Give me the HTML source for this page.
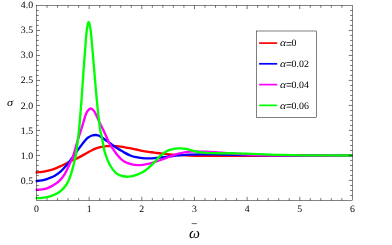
<!DOCTYPE html>
<html><head><meta charset="utf-8"><title>plot</title>
<style>
html,body{margin:0;padding:0;background:#fff;}
body{width:392px;height:245px;overflow:hidden;font-family:"Liberation Serif",serif;}
svg{display:block;will-change:transform;}
svg text{text-rendering:geometricPrecision;}
</style></head><body>
<svg width="392" height="245" viewBox="0 0 392 245">
<rect width="392" height="245" fill="#fff"/>
<defs><clipPath id="c"><rect x="35.30" y="5.50" width="317.30" height="194.90"/></clipPath></defs>
<g clip-path="url(#c)" fill="none" stroke-width="2.35" stroke-linejoin="round" stroke-linecap="butt">
<path d="M35.50 172.50C36.60 172.40 39.98 172.20 42.10 171.90C44.22 171.60 46.15 171.22 48.20 170.70C50.25 170.18 52.35 169.55 54.40 168.80C56.45 168.05 58.47 167.12 60.50 166.20C62.53 165.28 64.57 164.28 66.60 163.30C68.63 162.32 70.87 161.17 72.70 160.30C74.53 159.43 75.63 159.08 77.60 158.10C79.57 157.12 82.70 155.40 84.50 154.40C86.30 153.40 87.15 152.80 88.40 152.10C89.65 151.40 90.73 150.82 92.00 150.20C93.27 149.58 94.65 148.92 96.00 148.40C97.35 147.88 98.33 147.48 100.10 147.10C101.87 146.72 104.57 146.28 106.60 146.10C108.63 145.92 109.98 145.92 112.30 146.00C114.62 146.08 117.88 146.28 120.50 146.60C123.12 146.92 125.40 147.42 128.00 147.90C130.60 148.38 133.73 149.02 136.10 149.50C138.47 149.98 140.15 150.42 142.20 150.80C144.25 151.18 146.35 151.50 148.40 151.80C150.45 152.10 152.47 152.32 154.50 152.60C156.53 152.88 158.57 153.23 160.60 153.50C162.63 153.77 164.67 154.00 166.70 154.20C168.73 154.40 170.92 154.57 172.80 154.70C174.68 154.83 175.22 154.85 178.00 155.00C180.78 155.15 185.55 155.45 189.50 155.60C193.45 155.75 197.78 155.85 201.70 155.90C205.62 155.95 206.62 155.90 213.00 155.90C219.38 155.90 232.50 155.92 240.00 155.90C247.50 155.88 248.00 155.87 258.00 155.80C268.00 155.73 284.27 155.55 300.00 155.50C315.73 155.45 343.67 155.50 352.40 155.50" stroke="#ff0000"/>
<path d="M35.50 181.10C36.60 180.98 39.98 180.83 42.10 180.40C44.22 179.97 46.15 179.23 48.20 178.50C50.25 177.77 52.35 177.13 54.40 176.00C56.45 174.87 58.67 173.28 60.50 171.70C62.33 170.12 63.87 168.25 65.40 166.50C66.93 164.75 68.38 162.93 69.70 161.20C71.02 159.47 72.02 157.87 73.30 156.10C74.58 154.33 76.12 152.32 77.40 150.60C78.68 148.88 79.78 147.42 81.00 145.80C82.22 144.18 83.50 142.28 84.70 140.90C85.90 139.52 86.98 138.40 88.20 137.50C89.42 136.60 90.75 135.92 92.00 135.50C93.25 135.08 94.63 135.00 95.70 135.00C96.77 135.00 97.43 135.13 98.40 135.50C99.37 135.87 100.27 136.42 101.50 137.20C102.73 137.98 104.40 139.22 105.80 140.20C107.20 141.18 108.53 142.12 109.90 143.10C111.27 144.08 112.65 145.17 114.00 146.10C115.35 147.03 116.92 148.02 118.00 148.70C119.08 149.38 119.42 149.55 120.50 150.20C121.58 150.85 122.87 151.72 124.50 152.60C126.13 153.48 128.37 154.73 130.30 155.50C132.23 156.27 134.12 156.77 136.10 157.20C138.08 157.63 140.15 157.90 142.20 158.10C144.25 158.30 146.35 158.38 148.40 158.40C150.45 158.42 152.47 158.35 154.50 158.20C156.53 158.05 158.57 157.73 160.60 157.50C162.63 157.27 164.67 157.05 166.70 156.80C168.73 156.55 170.92 156.23 172.80 156.00C174.68 155.77 175.22 155.63 178.00 155.40C180.78 155.17 185.55 154.77 189.50 154.60C193.45 154.43 195.95 154.42 201.70 154.40C207.45 154.38 216.78 154.40 224.00 154.50C231.22 154.60 237.33 154.85 245.00 155.00C252.67 155.15 260.83 155.32 270.00 155.40C279.17 155.48 286.27 155.48 300.00 155.50C313.73 155.52 343.67 155.50 352.40 155.50" stroke="#0000ff"/>
<path d="M35.50 189.80C36.60 189.73 39.98 189.73 42.10 189.40C44.22 189.07 46.15 188.60 48.20 187.80C50.25 187.00 52.55 185.77 54.40 184.60C56.25 183.43 57.88 182.10 59.30 180.80C60.72 179.50 61.83 178.22 62.90 176.80C63.97 175.38 64.95 173.60 65.70 172.30C66.45 171.00 66.63 170.62 67.40 169.00C68.17 167.38 69.42 164.50 70.30 162.60C71.18 160.70 71.93 159.70 72.70 157.60C73.47 155.50 74.10 152.77 74.90 150.00C75.70 147.23 76.72 143.58 77.50 141.00C78.28 138.42 78.92 136.63 79.60 134.50C80.28 132.37 80.95 130.28 81.60 128.20C82.25 126.12 82.88 124.07 83.50 122.00C84.12 119.93 84.60 117.67 85.30 115.80C86.00 113.93 86.78 112.02 87.70 110.80C88.62 109.58 89.77 108.50 90.80 108.50C91.83 108.50 92.98 109.68 93.90 110.80C94.82 111.92 95.48 113.53 96.30 115.20C97.12 116.87 97.98 119.05 98.80 120.80C99.62 122.55 100.45 124.17 101.20 125.70C101.95 127.23 102.45 128.20 103.30 130.00C104.15 131.80 105.40 134.47 106.30 136.50C107.20 138.53 107.85 140.52 108.70 142.20C109.55 143.88 110.57 145.30 111.40 146.60C112.23 147.90 112.82 148.73 113.70 150.00C114.58 151.27 115.52 152.73 116.70 154.20C117.88 155.67 119.30 157.45 120.80 158.80C122.30 160.15 123.87 161.37 125.70 162.30C127.53 163.23 129.77 163.93 131.80 164.40C133.83 164.87 136.07 165.02 137.90 165.10C139.73 165.18 141.05 165.10 142.80 164.90C144.55 164.70 146.45 164.35 148.40 163.90C150.35 163.45 152.47 162.85 154.50 162.20C156.53 161.55 158.57 160.73 160.60 160.00C162.63 159.27 164.67 158.53 166.70 157.80C168.73 157.07 170.92 156.25 172.80 155.60C174.68 154.95 176.65 154.32 178.00 153.90C179.35 153.48 179.60 153.38 180.90 153.10C182.20 152.82 184.17 152.43 185.80 152.20C187.43 151.97 189.07 151.83 190.70 151.70C192.33 151.57 193.22 151.40 195.60 151.40C197.98 151.40 201.77 151.57 205.00 151.70C208.23 151.83 211.67 152.00 215.00 152.20C218.33 152.40 220.83 152.60 225.00 152.90C229.17 153.20 234.50 153.65 240.00 154.00C245.50 154.35 248.00 154.77 258.00 155.00C268.00 155.23 284.27 155.32 300.00 155.40C315.73 155.48 343.67 155.48 352.40 155.50" stroke="#ff00ff"/>
<path d="M35.50 198.20C36.60 198.15 39.98 198.12 42.10 197.90C44.22 197.68 46.15 197.42 48.20 196.90C50.25 196.38 52.35 195.75 54.40 194.80C56.45 193.85 58.67 192.67 60.50 191.20C62.33 189.73 64.08 187.72 65.40 186.00C66.72 184.28 67.55 182.62 68.40 180.90C69.25 179.18 69.78 177.78 70.50 175.70C71.22 173.62 72.05 170.77 72.70 168.40C73.35 166.03 73.93 163.40 74.40 161.50C74.87 159.60 75.13 158.92 75.50 157.00C75.87 155.08 76.17 153.17 76.60 150.00C77.03 146.83 77.62 142.17 78.10 138.00C78.58 133.83 78.93 131.33 79.50 125.00C80.07 118.67 80.82 109.17 81.50 100.00C82.18 90.83 82.90 79.67 83.60 70.00C84.30 60.33 85.17 48.67 85.70 42.00C86.23 35.33 86.47 32.93 86.80 30.00C87.13 27.07 87.40 25.75 87.70 24.40C88.00 23.05 88.28 21.90 88.60 21.90C88.92 21.90 89.27 23.05 89.60 24.40C89.93 25.75 90.23 27.07 90.60 30.00C90.97 32.93 91.20 35.33 91.80 42.00C92.40 48.67 93.37 60.33 94.20 70.00C95.03 79.67 95.92 90.83 96.80 100.00C97.68 109.17 98.93 120.00 99.50 125.00C100.07 130.00 99.73 127.55 100.20 130.00C100.67 132.45 101.63 136.37 102.30 139.70C102.97 143.03 103.57 147.27 104.20 150.00C104.83 152.73 105.27 153.85 106.10 156.10C106.93 158.35 108.07 161.25 109.20 163.50C110.33 165.75 111.58 167.87 112.90 169.60C114.22 171.33 115.58 172.83 117.10 173.90C118.62 174.97 120.15 175.53 122.00 176.00C123.85 176.47 126.15 176.75 128.20 176.70C130.25 176.65 132.27 176.27 134.30 175.70C136.33 175.13 138.53 174.22 140.40 173.30C142.27 172.38 143.87 171.37 145.50 170.20C147.13 169.03 148.70 167.67 150.20 166.30C151.70 164.93 153.07 163.48 154.50 162.00C155.93 160.52 157.38 158.78 158.80 157.40C160.22 156.02 161.68 154.72 163.00 153.70C164.32 152.68 165.47 151.97 166.70 151.30C167.93 150.63 169.17 150.12 170.40 149.70C171.63 149.28 172.83 149.02 174.10 148.80C175.37 148.58 176.87 148.47 178.00 148.40C179.13 148.33 179.60 148.32 180.90 148.40C182.20 148.48 184.17 148.62 185.80 148.90C187.43 149.18 189.07 149.67 190.70 150.10C192.33 150.53 193.97 151.13 195.60 151.50C197.23 151.87 198.67 152.07 200.50 152.30C202.33 152.53 204.57 152.77 206.60 152.90C208.63 153.03 209.80 153.03 212.70 153.10C215.60 153.17 220.37 153.27 224.00 153.30C227.63 153.33 230.72 153.23 234.50 153.30C238.28 153.37 242.78 153.57 246.70 153.70C250.62 153.83 252.45 153.90 258.00 154.10C263.55 154.30 272.33 154.70 280.00 154.90C287.67 155.10 291.93 155.20 304.00 155.30C316.07 155.40 344.33 155.47 352.40 155.50" stroke="#00ff00"/>
</g>
<path d="M47.03 200.40 L47.03 198.10M47.03 5.50 L47.03 7.80M57.56 200.40 L57.56 198.10M57.56 5.50 L57.56 7.80M68.09 200.40 L68.09 198.10M68.09 5.50 L68.09 7.80M78.62 200.40 L78.62 198.10M78.62 5.50 L78.62 7.80M89.15 200.40 L89.15 196.80M89.15 5.50 L89.15 9.10M99.68 200.40 L99.68 198.10M99.68 5.50 L99.68 7.80M110.21 200.40 L110.21 198.10M110.21 5.50 L110.21 7.80M120.74 200.40 L120.74 198.10M120.74 5.50 L120.74 7.80M131.27 200.40 L131.27 198.10M131.27 5.50 L131.27 7.80M141.80 200.40 L141.80 196.80M141.80 5.50 L141.80 9.10M152.33 200.40 L152.33 198.10M152.33 5.50 L152.33 7.80M162.86 200.40 L162.86 198.10M162.86 5.50 L162.86 7.80M173.39 200.40 L173.39 198.10M173.39 5.50 L173.39 7.80M183.92 200.40 L183.92 198.10M183.92 5.50 L183.92 7.80M194.45 200.40 L194.45 196.80M194.45 5.50 L194.45 9.10M204.98 200.40 L204.98 198.10M204.98 5.50 L204.98 7.80M215.51 200.40 L215.51 198.10M215.51 5.50 L215.51 7.80M226.04 200.40 L226.04 198.10M226.04 5.50 L226.04 7.80M236.57 200.40 L236.57 198.10M236.57 5.50 L236.57 7.80M247.10 200.40 L247.10 196.80M247.10 5.50 L247.10 9.10M257.63 200.40 L257.63 198.10M257.63 5.50 L257.63 7.80M268.16 200.40 L268.16 198.10M268.16 5.50 L268.16 7.80M278.69 200.40 L278.69 198.10M278.69 5.50 L278.69 7.80M289.22 200.40 L289.22 198.10M289.22 5.50 L289.22 7.80M299.75 200.40 L299.75 196.80M299.75 5.50 L299.75 9.10M310.28 200.40 L310.28 198.10M310.28 5.50 L310.28 7.80M320.81 200.40 L320.81 198.10M320.81 5.50 L320.81 7.80M331.34 200.40 L331.34 198.10M331.34 5.50 L331.34 7.80M341.87 200.40 L341.87 198.10M341.87 5.50 L341.87 7.80M36.50 195.45 L38.80 195.45M352.40 195.45 L350.10 195.45M36.50 190.45 L38.80 190.45M352.40 190.45 L350.10 190.45M36.50 185.45 L38.80 185.45M352.40 185.45 L350.10 185.45M36.50 180.45 L40.10 180.45M352.40 180.45 L348.80 180.45M36.50 175.45 L38.80 175.45M352.40 175.45 L350.10 175.45M36.50 170.45 L38.80 170.45M352.40 170.45 L350.10 170.45M36.50 165.45 L38.80 165.45M352.40 165.45 L350.10 165.45M36.50 160.45 L38.80 160.45M352.40 160.45 L350.10 160.45M36.50 155.45 L40.10 155.45M352.40 155.45 L348.80 155.45M36.50 150.45 L38.80 150.45M352.40 150.45 L350.10 150.45M36.50 145.45 L38.80 145.45M352.40 145.45 L350.10 145.45M36.50 140.45 L38.80 140.45M352.40 140.45 L350.10 140.45M36.50 135.45 L38.80 135.45M352.40 135.45 L350.10 135.45M36.50 130.45 L40.10 130.45M352.40 130.45 L348.80 130.45M36.50 125.45 L38.80 125.45M352.40 125.45 L350.10 125.45M36.50 120.45 L38.80 120.45M352.40 120.45 L350.10 120.45M36.50 115.45 L38.80 115.45M352.40 115.45 L350.10 115.45M36.50 110.45 L38.80 110.45M352.40 110.45 L350.10 110.45M36.50 105.45 L40.10 105.45M352.40 105.45 L348.80 105.45M36.50 100.45 L38.80 100.45M352.40 100.45 L350.10 100.45M36.50 95.45 L38.80 95.45M352.40 95.45 L350.10 95.45M36.50 90.45 L38.80 90.45M352.40 90.45 L350.10 90.45M36.50 85.45 L38.80 85.45M352.40 85.45 L350.10 85.45M36.50 80.45 L40.10 80.45M352.40 80.45 L348.80 80.45M36.50 75.45 L38.80 75.45M352.40 75.45 L350.10 75.45M36.50 70.45 L38.80 70.45M352.40 70.45 L350.10 70.45M36.50 65.45 L38.80 65.45M352.40 65.45 L350.10 65.45M36.50 60.45 L38.80 60.45M352.40 60.45 L350.10 60.45M36.50 55.45 L40.10 55.45M352.40 55.45 L348.80 55.45M36.50 50.45 L38.80 50.45M352.40 50.45 L350.10 50.45M36.50 45.45 L38.80 45.45M352.40 45.45 L350.10 45.45M36.50 40.45 L38.80 40.45M352.40 40.45 L350.10 40.45M36.50 35.45 L38.80 35.45M352.40 35.45 L350.10 35.45M36.50 30.45 L40.10 30.45M352.40 30.45 L348.80 30.45M36.50 25.45 L38.80 25.45M352.40 25.45 L350.10 25.45M36.50 20.45 L38.80 20.45M352.40 20.45 L350.10 20.45M36.50 15.45 L38.80 15.45M352.40 15.45 L350.10 15.45M36.50 10.45 L38.80 10.45M352.40 10.45 L350.10 10.45" stroke="#000" stroke-width="0.55" fill="none"/>
<rect x="36.50" y="5.50" width="315.90" height="194.90" fill="none" stroke="#000" stroke-width="0.48"/>
<g font-family="'Liberation Serif', serif" font-size="9.80" fill="#000">
<text x="36.50" y="211.80" text-anchor="middle">0</text>
<text x="89.15" y="211.80" text-anchor="middle">1</text>
<text x="141.80" y="211.80" text-anchor="middle">2</text>
<text x="194.45" y="211.80" text-anchor="middle">3</text>
<text x="247.10" y="211.80" text-anchor="middle">4</text>
<text x="299.75" y="211.80" text-anchor="middle">5</text>
<text x="352.40" y="211.80" text-anchor="middle">6</text>
<text x="33.10" y="183.70" text-anchor="end">0.5</text>
<text x="33.10" y="158.60" text-anchor="end">1.0</text>
<text x="33.10" y="133.70" text-anchor="end">1.5</text>
<text x="33.10" y="108.55" text-anchor="end">2.0</text>
<text x="33.10" y="83.20" text-anchor="end">2.5</text>
<text x="33.10" y="58.20" text-anchor="end">3.0</text>
<text x="33.10" y="33.20" text-anchor="end">3.5</text>
<text x="33.10" y="7.80" text-anchor="end">4.0</text>
</g>
<text transform="translate(10.0,106.3) scale(1.12,1)" font-family="'Liberation Serif', serif" font-style="italic" font-size="11" text-anchor="middle" fill="#000">σ</text>
<text x="194.6" y="237.9" font-family="'Liberation Serif', serif" font-style="italic" font-size="15.5" text-anchor="middle" fill="#000">ω</text>
<path d="M191.7 223.6H196.9" stroke="#000" stroke-width="0.6" fill="none"/>
<rect x="256.5" y="31.0" width="59.9" height="86.4" fill="#fff" stroke="#000" stroke-width="0.5"/>
<path d="M259.1 43.10H277.2" stroke="#ff0000" stroke-width="1.7" fill="none"/>
<g font-family="'Liberation Serif', serif" font-size="9.9" fill="#000">
<text transform="translate(280.1,46.35) scale(1.16,1)" font-style="italic">α</text>
<text transform="translate(286.1,47.70) scale(1.08,1.25)">=</text>
<text x="291.6" y="46.35">0</text>
</g>
<path d="M259.1 63.80H277.2" stroke="#0000ff" stroke-width="1.7" fill="none"/>
<g font-family="'Liberation Serif', serif" font-size="9.9" fill="#000">
<text transform="translate(280.1,67.05) scale(1.16,1)" font-style="italic">α</text>
<text transform="translate(286.1,68.40) scale(1.08,1.25)">=</text>
<text x="291.6" y="67.05">0.02</text>
</g>
<path d="M259.1 84.60H277.2" stroke="#ff00ff" stroke-width="1.7" fill="none"/>
<g font-family="'Liberation Serif', serif" font-size="9.9" fill="#000">
<text transform="translate(280.1,87.85) scale(1.16,1)" font-style="italic">α</text>
<text transform="translate(286.1,89.20) scale(1.08,1.25)">=</text>
<text x="291.6" y="87.85">0.04</text>
</g>
<path d="M259.1 105.40H277.2" stroke="#00ff00" stroke-width="1.7" fill="none"/>
<g font-family="'Liberation Serif', serif" font-size="9.9" fill="#000">
<text transform="translate(280.1,108.65) scale(1.16,1)" font-style="italic">α</text>
<text transform="translate(286.1,110.00) scale(1.08,1.25)">=</text>
<text x="291.6" y="108.65">0.06</text>
</g>
</svg>
</body></html>
